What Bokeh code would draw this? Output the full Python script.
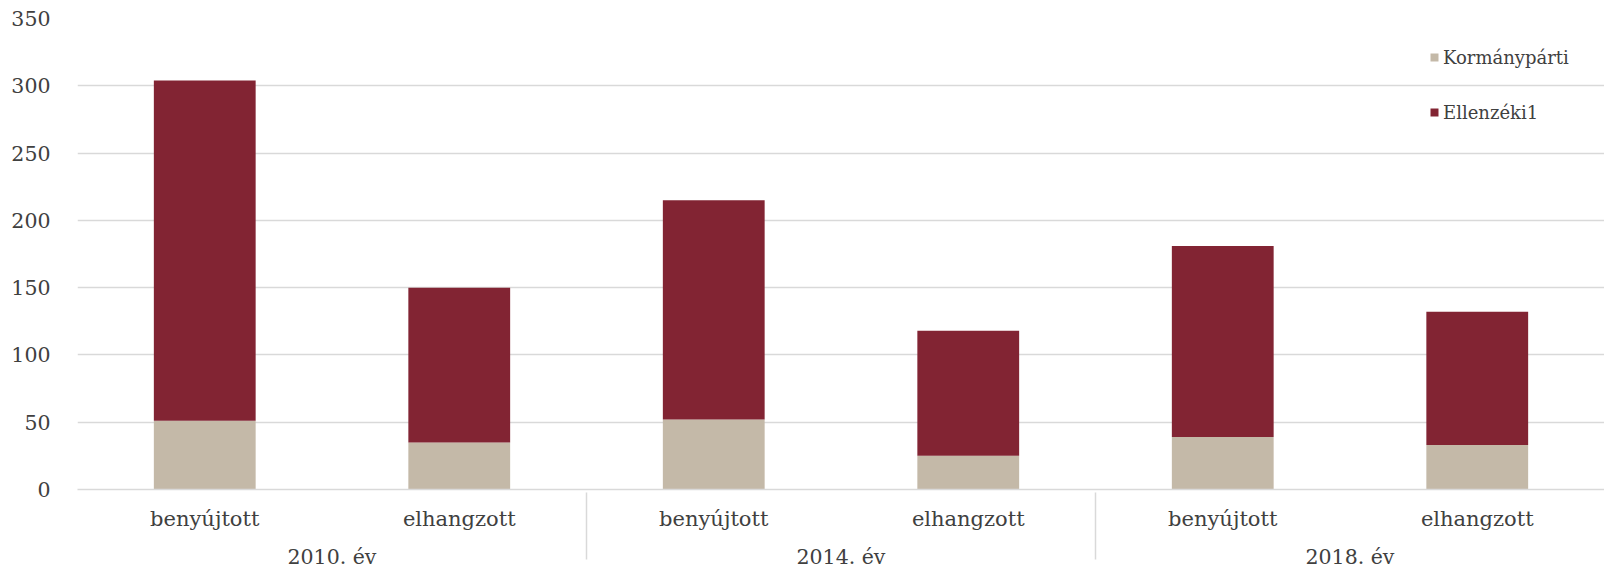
from bokeh.plotting import figure
from bokeh.models import FactorRange, Range1d, ColumnDataSource, FixedTicker
from bokeh.embed import file_html
from bokeh.resources import INLINE

years = ["2010. év", "2014. év", "2018. év"]
types = ["benyújtott", "elhangzott"]
kormanyparti = [51, 35, 52, 25, 39, 33]
ellenzeki = [253, 115, 163, 93, 142, 99]
series_names = ["Kormánypárti", "Ellenzéki1"]
y_ticks = [0, 50, 100, 150, 200, 250, 300, 350]

factors = [(y, t) for y in years for t in types]
source = ColumnDataSource(dict(x=factors, korm=kormanyparti, ellen=ellenzeki))

FONT = "DejaVu Serif"
TXT = "#404040"

p = figure(x_range=FactorRange(*factors, factor_padding=0, group_padding=0, range_padding=0),
           y_range=Range1d(0, 350), width=1604, height=574,
           output_backend="svg", toolbar_location=None,
           min_border_left=77, min_border_right=0, min_border_top=18, min_border_bottom=85)

p.vbar_stack(["korm", "ellen"], x="x", width=0.4, source=source,
             color=["#c4b9a8", "#822433"], line_color=None,
             legend_label=series_names)

p.outline_line_color = None
p.xgrid.grid_line_color = None
p.ygrid.grid_line_color = "#d9d9d9"
p.ygrid.grid_line_width = 1.5
p.ygrid.ticker = FixedTicker(ticks=y_ticks)

p.yaxis.ticker = FixedTicker(ticks=y_ticks)
p.yaxis.axis_line_color = None
p.yaxis.major_tick_line_color = None
p.yaxis.minor_tick_line_color = None
p.yaxis.major_label_standoff = 21
p.yaxis.major_label_text_font = FONT
p.yaxis.major_label_text_font_size = "20.5px"
p.yaxis.major_label_text_color = TXT

xa = p.xaxis[0]
xa.axis_line_color = "#d9d9d9"
xa.axis_line_width = 1.5
xa.major_tick_line_color = None
xa.minor_tick_line_color = None
xa.major_label_standoff = 11
xa.major_label_text_font = FONT
xa.major_label_text_font_size = "21px"
xa.major_label_text_line_height = 1.4
xa.major_label_text_color = TXT
xa.group_text_font = FONT
xa.group_text_font_size = "20.5px"
xa.group_text_font_style = "normal"
xa.group_text_color = TXT
xa.separator_line_color = "#d9d9d9"
xa.separator_line_width = 1.5

lg = p.legend[0]
lg.location = (1352, 366)
lg.background_fill_alpha = 0
lg.border_line_color = None
lg.padding = 0
lg.margin = 0
lg.spacing = 33
lg.glyph_width = 10
lg.glyph_height = 10
lg.label_height = 22
lg.label_standoff = 4
lg.label_text_font = FONT
lg.label_text_font_size = "18px"
lg.label_text_color = TXT

open("out.html", "w").write(file_html(p, INLINE))
